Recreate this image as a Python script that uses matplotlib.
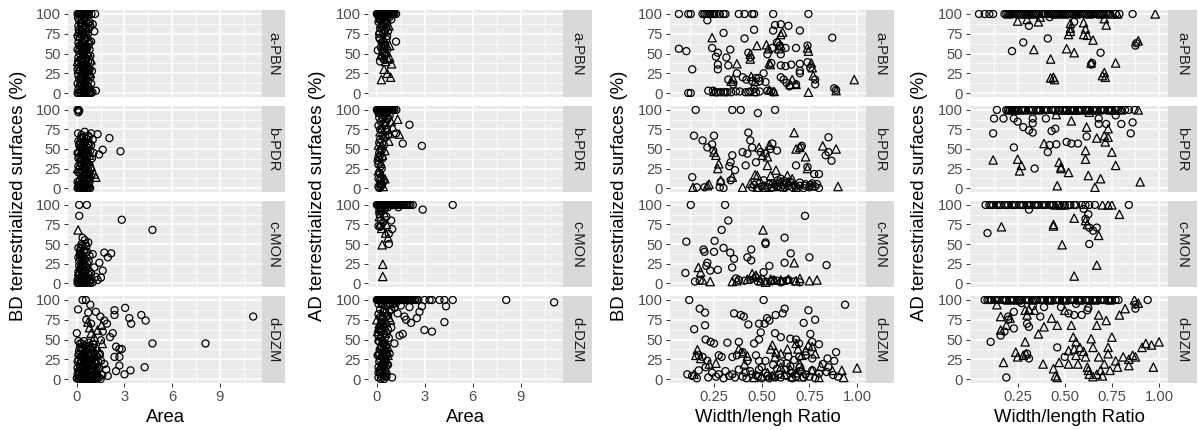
import matplotlib
matplotlib.use("Agg")
import matplotlib.pyplot as plt

plt.rcParams['font.family'] = ['Liberation Sans', 'DejaVu Sans']

facets = ["a-PBN", "b-PDR", "c-MON", "d-DZM"]
y_ticks = [0, 25, 50, 75, 100]
area_ticks = [0, 3, 6, 9]
ratio_ticks = [0.25, 0.50, 0.75, 1.00]
ratio_labels = ["0.25", "0.50", "0.75", "1.00"]

# (x, y) pairs; "_o" = open circles, "_t" = open triangles
area_bd_o = {
    "a-PBN": [(0.05,100),(0.12,100),(0.2,100),(0.28,100),(0.35,100),(0.42,100),(0.5,100),(0.58,100),(0.66,100),
              (0.75,100),(0.92,100),(1.15,100),(0.8,90),(0.85,85),(1.0,87),(1.1,78),(0.6,95),(0.3,92),(0.1,85),
              (0.4,82),(0.7,75),(0.2,70),(0.55,68),(0.9,65),(0.15,60),(0.45,58),(0.8,55),(0.3,52),(0.65,48),
              (0.1,45),(0.5,42),(0.85,38),(0.25,35),(0.6,32),(0.95,28),(0.4,25),(0.75,22),(0.15,18),(0.55,15),
              (0.9,12),(0.3,10),(0.7,8),(0.1,5),(0.45,4),(1.2,3),(0.05,0),(0.12,0),(0.2,1),(0.28,0),(0.35,2),
              (0.42,0),(0.5,1),(0.58,0),(0.66,2),(0.74,0),(0.82,1),(0.9,0),(0.98,1),(0.2,28),(0.35,65),(0.6,78),
              (0.25,88),(0.7,40),(0.4,48),(0.15,75),(0.5,20),(0.8,30),(0.05,55),(0.05,30),(0.05,12),
              (0.08,95),(0.25,97),(0.45,93),(0.7,88),(0.12,80),(0.32,77),(0.52,85),(0.78,82),(0.05,72),(0.28,74),
              (0.48,66),(0.65,70),(0.1,63),(0.35,57),(0.58,55),(0.75,62),(0.18,50),(0.4,53),(0.62,44),(0.85,47),
              (0.08,40),(0.3,43),(0.55,37),(0.72,32),(0.15,33),(0.38,30),(0.62,26),(0.85,20),(0.1,22),(0.3,18),
              (0.5,12),(0.72,15),(0.2,8),(0.4,7),(0.6,4),(0.8,6),(0.25,20),(0.45,32),(0.65,10),(0.15,92),
              (0.55,98),(0.35,88),(0.5,60),(0.22,60),(0.68,58)],
    "b-PDR": [(0.05,100),(0.1,100),(0.15,99),(0.1,97),(0.72,67),(1.31,69),(2.05,64),(1.63,49),(2.75,47),(1.4,43),
              (0.9,70),(0.5,72),(0.3,68),(1.0,62),(0.1,60),(0.4,58),(0.7,55),(0.2,52),(0.55,50),(0.85,48),(0.05,45),
              (0.35,43),(0.65,40),(0.95,38),(0.25,36),(0.5,33),(0.8,30),(0.1,28),(0.4,26),(0.7,23),(0.2,20),
              (0.55,18),(0.9,15),(0.3,13),(0.6,10),(0.05,8),(0.45,6),(0.75,4),(0.15,2),(0.05,0),(0.12,0),(0.2,0),
              (0.28,1),(0.36,0),(0.44,0),(0.52,1),(0.6,0),(0.68,0),(0.76,1),(0.84,0),(0.3,35),(0.6,63),(0.15,40),
              (0.45,15),(0.8,57),(0.25,5),(0.65,28),(1.05,45),(0.35,52),
              (0.08,70),(0.3,65),(0.55,60),(0.75,65),(0.15,55),(0.4,48),(0.65,52),(0.9,55),(0.1,38),(0.3,45),
              (0.5,40),(0.7,45),(0.2,33),(0.45,30),(0.6,35),(0.85,25),(0.1,20),(0.35,20),(0.55,24),(0.75,12),
              (0.2,10),(0.4,12),(0.6,5),(0.8,8),(0.3,3),(0.5,5),(0.1,4),(0.65,18),(0.25,58),(0.45,65)],
    "c-MON": [(0.15,100),(0.63,100),(0.15,86),(2.83,81),(4.76,68),(0.72,52),(0.36,58),(0.2,41),(0.57,39),(1.0,37),
              (1.73,39),(2.16,38),(1.95,33),(1.42,26),(1.1,20),(1.63,16),(1.52,7),(1.31,4),(0.78,3),(0.5,55),
              (0.3,50),(0.6,47),(0.25,45),(0.45,42),(0.8,35),(0.3,32),(0.5,30),(0.15,28),(0.65,25),(0.4,22),
              (0.2,18),(0.55,15),(0.9,12),(0.1,10),(0.35,8),(0.7,6),(0.05,4),(0.25,2),(0.45,1),(0.6,0),(0.05,0),
              (0.15,0),(0.3,0),(0.85,0),(1.0,1),(0.4,12),(0.2,35),(1.2,8),
              (0.1,45),(0.35,48),(0.55,50),(0.2,38),(0.4,35),(0.65,40),(0.1,33),(0.3,28),(0.5,24),(0.75,28),
              (0.15,22),(0.35,18),(0.6,20),(0.8,15),(0.1,14),(0.3,10),(0.5,8),(0.7,12),(0.2,5),(0.4,3),(0.6,4),
              (0.8,2),(0.1,2),(0.3,5),(0.5,2),(0.9,5)],
    "d-DZM": [(0.36,100),(0.57,100),(0.85,94),(0.08,88),(0.72,84),(1.2,85),(1.48,79),(2.37,87),(2.37,81),(3.04,90),
              (3.3,77),(3.42,70),(4.06,81),(4.33,74),(4.76,45),(8.1,45),(11.1,79),(0.0,58),(1.73,74),(1.9,70),
              (1.63,60),(1.52,49),(2.26,58),(2.09,53),(2.47,41),(2.68,38),(2.83,38),(2.37,28),(2.68,28),(2.68,17),
              (2.47,10),(3.0,6),(3.38,11),(4.27,15),(1.52,23),(1.73,19),(1.95,4),(1.85,12),(0.9,70),(0.6,75),
              (0.45,48),(0.2,45),(0.7,42),(1.0,40),(0.3,38),(0.55,35),(0.85,33),(1.2,30),(0.1,30),(0.4,28),
              (0.65,26),(0.95,24),(1.35,22),(0.2,20),(0.5,18),(0.8,16),(1.1,15),(0.05,14),(0.3,12),(0.6,10),
              (0.9,9),(1.25,8),(0.15,6),(0.45,5),(0.75,4),(1.05,3),(1.4,2),(0.0,1),(0.1,0),(0.2,0),(0.3,1),(0.4,0),
              (0.5,0),(0.6,1),(0.7,0),(0.8,0),(0.9,1),(1.0,0),(1.15,0),(1.3,1),(1.5,0),(0.25,28),(0.55,22),
              (0.35,8),(0.65,14),(0.15,36),(1.45,32),(1.6,5),(0.05,22),(0.75,30),
              (0.1,48),(0.3,45),(0.5,42),(0.75,46),(1.0,35),(0.2,40),(0.4,37),(0.6,38),(0.9,30),(1.1,32),(1.3,28),
              (0.15,32),(0.35,30),(0.55,28),(0.75,25),(1.0,27),(1.2,20),(0.1,24),(0.3,22),(0.5,20),(0.7,22),
              (0.9,18),(1.4,14),(0.2,16),(0.4,14),(0.6,15),(0.8,12),(1.0,10),(1.2,12),(0.1,10),(0.3,6),(0.5,8),
              (0.7,7),(0.9,5),(1.1,6),(1.3,4),(0.2,2),(0.4,3),(0.6,2),(0.8,3),(1.0,1),(1.2,2),(0.05,6),(0.45,24),
              (0.65,32),(0.85,40),(1.05,44),(0.25,12)],
}
area_bd_t = {
    "a-PBN": [(0.15,72),(0.3,62),(0.5,75),(0.7,52),(0.25,45),(0.45,38),(0.6,22),(0.35,18),(0.8,68),(0.1,30),
              (0.55,10),(0.9,42),(0.2,5),(0.4,25),(0.65,82),(0.75,35),(0.15,58),(0.5,50),(0.3,90),(0.85,25),
              (0.6,60),(0.2,15),(0.1,78),(0.4,66),(0.7,28),(0.35,48),(0.55,84),(0.05,40)],
    "b-PDR": [(0.1,48),(0.3,57),(0.5,45),(0.7,35),(0.2,30),(0.45,22),(0.6,50),(0.8,42),(1.1,18),(1.2,14),
              (0.15,12),(0.35,8),(0.55,38),(0.75,20),(0.25,65),(0.9,28),(0.05,25),(0.4,3),(0.6,15),(0.3,25)],
    "c-MON": [(0.08,68),(0.3,40),(0.4,30),(0.2,22),(0.5,18),(0.25,12),(0.1,6),(0.35,3),(0.6,8),(0.15,15),
              (0.45,5),(0.3,25)],
    "d-DZM": [(1.31,62),(1.1,53),(1.42,34),(1.0,49),(1.6,45),(0.9,58),(1.25,40),(0.8,65),(0.7,72),(1.55,68),
              (0.5,38),(0.3,25),(0.6,30),(0.2,15),(0.4,10),(1.0,20),(1.2,25),(0.85,42),(1.35,15),(0.15,5),
              (0.6,8),(0.95,2),(0.4,33),(0.75,18),(1.15,10)],
}

area_ad_o = {
    "a-PBN": [(0.0,100),(0.08,100),(0.16,100),(0.24,100),(0.32,100),(0.4,100),(0.48,100),(0.56,100),(0.64,100),
              (0.72,100),(0.8,100),(0.9,100),(1.0,100),(1.1,100),(1.2,100),(0.1,97),(0.3,96),(0.5,95),(0.7,97),
              (0.2,92),(0.45,90),(0.65,88),(0.9,93),(0.06,54),(1.2,65),(0.64,72),(0.3,85),(0.5,78),(0.2,68),
              (0.4,62),(0.55,58),(0.35,45),(0.6,82),(0.15,75),(0.45,50),(0.25,58),
              (0.04,100),(0.12,100),(0.2,100),(0.28,100),(0.36,100),(0.44,100),(0.52,100),(0.6,100),(0.68,100),
              (0.76,100),(0.85,100),(0.95,100),(1.05,100),(0.15,98),(0.4,97),(0.6,98),(0.25,94),(0.55,92),
              (0.8,96),(0.1,90),(0.35,88),(0.6,90),(0.2,82),(0.45,80),(0.7,78),(0.15,70),(0.4,75),(0.6,68),
              (0.3,64),(0.5,60),(0.65,55),(0.35,52),(0.5,48),(0.2,40),(0.45,42)],
    "b-PDR": [(0.0,100),(0.08,100),(0.16,100),(0.24,100),(0.32,100),(0.4,100),(0.48,100),(0.56,100),(0.64,100),
              (0.72,100),(0.8,100),(0.9,100),(1.0,100),(1.1,100),(1.22,100),(0.2,96),(0.5,95),(0.8,93),(0.35,90),
              (0.65,88),(2.04,81),(2.82,54),(1.62,57),(1.2,70),(0.5,80),(0.3,75),(0.7,68),(0.2,62),(0.45,55),
              (0.15,45),(0.35,38),(0.1,30),(0.3,25),(0.2,18),(0.1,12),(0.3,5),(0.15,0),(0.25,2),(0.4,8),
              (0.05,35),(0.25,50),(0.55,65),
              (0.04,100),(0.12,100),(0.2,100),(0.28,100),(0.36,100),(0.44,100),(0.52,100),(0.6,100),(0.68,100),
              (0.76,100),(0.85,100),(0.95,100),(0.1,96),(0.3,97),(0.6,95),(0.15,90),(0.45,92),(0.7,90),(0.25,85),
              (0.55,84),(0.1,80),(0.4,82),(0.2,75),(0.6,76),(0.35,68),(0.15,58),(0.3,48),(0.2,42),(0.1,40),
              (0.25,28),(0.15,20),(0.3,12),(0.2,5),(0.1,2)],
    "c-MON": [(0.0,100),(0.1,100),(0.2,100),(0.3,100),(0.4,100),(0.5,100),(0.6,100),(0.7,100),(0.8,100),
              (0.9,100),(1.0,100),(1.15,100),(1.3,100),(1.5,100),(1.7,100),(1.9,100),(2.1,100),(2.25,100),
              (4.75,100),(2.87,94),(1.35,97),(0.17,88),(0.9,80),(0.96,69),(0.75,63),(0.27,73),(0.1,73),
              (0.75,50),(0.5,95),(0.3,92),(0.6,85),(0.4,78),
              (0.05,100),(0.15,100),(0.25,100),(0.35,100),(0.45,100),(0.55,100),(0.65,100),(0.75,100),(0.85,100),
              (0.95,100),(1.08,100),(1.22,100),(1.4,100),(1.6,100),(1.8,100),(2.0,100),(0.2,96),(0.4,95),
              (0.7,97),(0.15,92),(0.25,80),(0.2,72)],
    "d-DZM": [(0.0,100),(0.1,100),(0.2,100),(0.3,100),(0.4,100),(0.5,100),(0.6,100),(0.7,100),(0.8,100),
              (0.9,100),(1.0,100),(1.1,100),(1.2,100),(1.35,100),(1.5,100),(1.65,100),(1.8,100),(2.0,100),
              (2.2,100),(2.4,100),(2.6,100),(2.98,100),(3.3,100),(3.45,100),(3.92,100),(4.23,100),(4.75,100),
              (8.1,100),(11.1,97),(4.33,92),(2.82,92),(4.23,72),(2.98,62),(3.45,60),(2.67,85),(2.04,91),
              (2.5,77),(2.14,71),(1.73,79),(1.83,75),(1.42,55),(1.62,57),(1.1,45),(1.3,83),(0.9,88),(0.6,92),
              (0.3,95),(1.5,93),(1.2,96),(0.8,96),(0.4,85),(0.7,80),(0.2,78),(0.55,70),(0.9,65),(0.15,62),
              (0.45,58),(0.75,52),(0.1,48),(0.35,45),(0.6,42),(0.2,38),(0.5,35),(0.8,32),(0.05,30),(0.3,28),
              (0.55,25),(0.15,22),(0.4,20),(0.7,18),(0.1,15),(0.3,12),(0.5,10),(0.2,8),(0.4,5),(0.6,3),(0.1,2),
              (0.25,0),(0.45,0),(0.95,2),(0.35,33),(0.25,52),
              (0.05,100),(0.15,100),(0.25,100),(0.35,100),(0.45,100),(0.55,100),(0.65,100),(0.75,100),(0.85,100),
              (0.95,100),(1.05,100),(1.15,100),(1.28,100),(1.42,100),(1.58,100),(1.72,100),(1.9,100),(2.1,100),
              (2.3,100),(2.5,100),(0.1,95),(0.4,94),(0.7,93),(1.0,95),(0.2,88),(0.5,88),(0.8,86),(1.1,90),
              (0.1,82),(0.35,78),(0.6,80),(0.3,72),(0.45,66),(0.7,62),(0.25,60),(0.5,52),(0.1,55),(0.3,40),
              (0.45,38),(0.15,30),(0.4,28),(0.6,30),(0.2,25),(0.35,18),(0.55,15),(0.1,8),(0.3,3),(0.5,4),
              (0.2,12),(0.4,45),(0.15,48),(0.55,35)],
}
area_ad_t = {
    "a-PBN": [(0.28,17),(0.86,20),(0.92,37),(0.7,43),(0.17,79),(0.5,66),(0.6,52),(0.8,45),(0.4,70),(0.3,88),
              (0.75,85),(0.55,40),(0.65,25),(0.2,95),(0.45,30),(0.35,60),(0.8,60),(0.25,48)],
    "b-PDR": [(1.4,69),(1.3,88),(0.28,8),(0.5,12),(0.9,85),(0.6,75),(0.4,68),(0.2,72),(0.75,60),(0.3,55),
              (0.5,48),(0.15,40),(0.25,32),(0.1,22),(0.2,15),(0.4,2),(1.0,78),(0.8,70),(0.35,42),(0.1,55)],
    "c-MON": [(0.33,49),(0.37,24),(0.37,8.5),(0.55,64),(0.3,70),(0.15,85),(0.6,75),(0.45,90),(0.2,95),(0.7,58)],
    "d-DZM": [(0.0,75),(0.15,70),(0.3,65),(0.45,68),(0.6,72),(0.75,78),(0.2,55),(0.4,50),(0.55,45),(0.7,40),
              (0.1,35),(0.35,30),(0.5,25),(0.65,22),(0.25,18),(0.45,12),(0.6,62),(0.85,75),(0.05,60),(0.3,80),
              (0.5,85),(0.2,42),(0.65,35),(0.4,8),(0.7,30),(0.1,65),(0.25,70),(0.55,58),(0.35,20),(0.6,12)],
}

ratio_bd_o = {
    "a-PBN": [(0.066,100),(0.115,100),(0.128,100),(0.19,100),(0.2,100),(0.21,100),(0.22,100),(0.23,100),(0.24,100),
              (0.25,100),(0.26,100),(0.28,100),(0.3,100),(0.31,100),(0.38,100),(0.41,100),(0.45,100),(0.46,100),
              (0.56,100),(0.745,100),(0.215,92),(0.066,56),(0.105,53),(0.136,30),(0.3,76),(0.24,57),(0.27,51),
              (0.26,46),(0.27,36),(0.315,45),(0.335,55),(0.325,35),(0.27,30),(0.325,17),(0.35,11),(0.37,25),
              (0.41,69),(0.43,51),(0.46,80),(0.44,45),(0.4,20),(0.42,17),(0.45,15),(0.47,19),(0.485,19),(0.49,15),
              (0.52,14),(0.51,25),(0.56,79),(0.57,86),(0.6,87),(0.64,85),(0.7,79),(0.555,57),(0.58,64),(0.595,60),
              (0.6,49),(0.625,57),(0.68,57),(0.74,60),(0.53,49),(0.55,38),(0.6,35),(0.625,34),(0.655,36),(0.7,37),
              (0.74,39),(0.7,28),(0.7,25),(0.755,32),(0.6,20),(0.615,17),(0.63,13),(0.645,8.5),(0.68,11),(0.78,17),
              (0.78,11),(0.87,70),(0.88,6),(0.89,4),(0.115,0),(0.128,0),(0.22,3),(0.245,3),(0.26,1),(0.27,1),
              (0.285,1),(0.3,1),(0.31,1),(0.32,1),(0.34,1),(0.365,2),(0.385,2),(0.415,1),(0.43,1),(0.44,2),
              (0.46,5),(0.47,1),(0.49,2),(0.53,3),(0.55,2),(0.56,1)],
    "b-PDR": [(0.154,100),(0.346,100),(0.39,100),(0.48,96),(0.57,100),(0.136,14),(0.145,67),(0.19,61),(0.215,52),
              (0.25,67),(0.24,56),(0.246,48),(0.346,42),(0.337,33),(0.33,28),(0.36,23),(0.337,10),(0.285,8),
              (0.43,71),(0.44,61),(0.45,52),(0.4,46),(0.425,44),(0.416,29),(0.47,33),(0.495,46),(0.52,44),
              (0.547,50),(0.58,48),(0.556,57),(0.68,29),(0.705,52),(0.71,54),(0.74,27),(0.775,18),(0.8,18),
              (0.85,65),(0.85,46),(0.866,35),(0.835,42),(0.73,5),(0.765,6),(0.79,5),(0.7,3),(0.45,1),(0.48,0),
              (0.5,2),(0.53,1),(0.55,0),(0.58,2),(0.6,1),(0.62,0),(0.64,3),(0.66,1),(0.68,2),(0.72,0),(0.75,1),
              (0.78,2),(0.8,0),(0.2,1),(0.28,1),(0.3,0),(0.16,1),(0.6,12),(0.65,8),(0.56,6),
              (0.46,4),(0.49,6),(0.515,3),(0.54,5),(0.57,4),(0.59,7),(0.615,4),(0.63,6),(0.67,4),(0.7,7),
              (0.725,3),(0.755,4),(0.51,10),(0.585,10),(0.62,9)],
    "c-MON": [(0.128,100),(0.308,100),(0.105,53),(0.1,13),(0.29,68),(0.325,80),(0.3,45),(0.253,54),(0.25,40),
              (0.2,40),(0.195,43),(0.215,26),(0.21,22),(0.23,16),(0.27,17),(0.175,3),(0.15,2),(0.335,39),
              (0.355,31),(0.345,20),(0.365,6),(0.425,33),(0.445,29),(0.445,43),(0.47,7),(0.51,14),(0.52,52),
              (0.52,50),(0.54,22),(0.62,58),(0.62,26),(0.652,38),(0.727,86),(0.75,33),(0.84,23),(0.48,2),
              (0.52,2),(0.55,2),(0.58,3),(0.61,2),(0.64,4),(0.67,2),(0.44,4),(0.41,3),(0.5,5),(0.56,4),
              (0.6,1),(0.63,3),(0.7,1),(0.38,4)],
    "d-DZM": [(0.12,100),(0.51,100),(0.937,94),(0.175,89),(0.203,84),(0.203,68),(0.146,63),(0.355,83),(0.39,81),
              (0.406,79),(0.43,69),(0.486,70),(0.515,70),(0.528,77),(0.54,74),(0.573,81),(0.61,83),(0.62,89),
              (0.745,87),(0.72,71),(0.78,75),(0.232,47),(0.25,45),(0.206,50),(0.32,46),(0.38,47),(0.46,45),
              (0.486,50),(0.495,59),(0.57,58),(0.6,53),(0.65,51),(0.68,50),(0.696,45),(0.755,57),(0.764,47),
              (0.8,44),(0.845,26),(0.88,23),(0.89,34),(0.17,30),(0.19,28),(0.215,23),(0.275,30),(0.29,28),
              (0.346,28),(0.37,30),(0.4,34),(0.425,23),(0.47,30),(0.486,23),(0.52,23),(0.6,20),(0.64,28),
              (0.696,28),(0.73,30),(0.765,26),(0.82,19),(0.85,15),(0.11,6),(0.135,4),(0.17,11),(0.206,15),
              (0.24,8),(0.275,6),(0.31,10),(0.346,6),(0.38,12),(0.416,8),(0.45,6),(0.486,12),(0.52,8),(0.556,4),
              (0.59,6),(0.625,12),(0.66,8),(0.7,10),(0.73,6),(0.765,11),(0.8,7),(0.84,9),(0.875,5),(0.9,3),
              (0.16,1),(0.22,2),(0.3,1),(0.36,2),(0.42,1),(0.48,3),(0.54,1),(0.6,2),(0.66,1),(0.72,2),
              (0.26,3),(0.33,4),(0.4,3),(0.47,5),(0.5,1),(0.53,4),(0.57,2),(0.63,4),(0.68,3),(0.75,3),(0.78,1),
              (0.44,10),(0.5,15),(0.58,13),(0.65,16),(0.7,15),(0.63,20),(0.67,24),(0.56,18)],
}
ratio_bd_t = {
    "a-PBN": [(0.24,70),(0.37,37),(0.35,18),(0.34,15),(0.44,43),(0.44,49),(0.445,21),(0.465,15),(0.475,60),
              (0.525,61),(0.535,56),(0.545,36),(0.54,38),(0.6,74),(0.61,77),(0.585,66),(0.59,56),(0.6,60),
              (0.66,17),(0.65,11),(0.68,11),(0.74,57),(0.745,53),(0.76,38),(0.765,32),(0.77,22),(0.985,17),
              (0.89,3),(0.745,1),(0.565,2),(0.54,4),(0.46,2),(0.25,2)],
    "b-PDR": [(0.25,46),(0.26,42),(0.275,31),(0.27,25),(0.346,14),(0.224,5),(0.215,3),(0.285,10),(0.4,1),
              (0.465,17),(0.477,16),(0.486,52),(0.54,55),(0.53,40),(0.503,42),(0.53,29),(0.575,23),(0.547,16),
              (0.67,71),(0.68,50),(0.7,52),(0.73,40),(0.74,25),(0.82,54),(0.89,50),(0.9,2),(0.635,16),(0.64,8),
              (0.66,12),(0.6,8),(0.477,1),(0.52,1),(0.56,2),(0.61,2),(0.68,1),(0.765,3),(0.14,1),(0.44,6)],
    "c-MON": [(0.507,68),(0.67,26),(0.168,20),(0.18,14),(0.19,4),(0.23,2),(0.346,2),(0.37,3),(0.425,5),
              (0.45,12),(0.46,8),(0.47,10),(0.495,3),(0.52,1),(0.547,5),(0.565,4),(0.6,4),(0.64,5),(0.68,3),
              (0.7,6),(0.75,3),(0.79,4)],
    "d-DZM": [(0.163,37),(0.155,30),(0.18,26),(0.225,19),(0.26,20),(0.145,6),(0.38,38),(0.4,33),(0.425,29),
              (0.41,19),(0.556,43),(0.547,38),(0.575,34),(0.57,28),(0.6,32),(0.635,38),(0.68,45),(0.69,38),
              (0.71,30),(0.73,36),(0.745,43),(0.78,32),(0.765,41),(0.7,19),(0.71,13),(0.764,11),(0.81,16),
              (0.87,11),(0.92,11),(0.93,2),(1.0,14),(0.556,4),(0.5,4),(0.46,2),(0.53,8),(0.62,6),(0.66,3),
              (0.71,3),(0.8,2),(0.65,12),(0.68,8),(0.6,15)],
}

ratio_ad_o = {
    "a-PBN": [(0.045,100),(0.075,100),(0.1,100),(0.12,100),(0.18,100),(0.2,100),(0.22,100),(0.24,100),
              (0.26,100),(0.27,100),(0.29,100),(0.31,100),(0.33,100),(0.35,100),(0.38,100),(0.4,100),(0.42,100),
              (0.44,100),(0.46,100),(0.47,100),(0.49,100),(0.5,100),(0.52,100),(0.53,100),(0.55,100),(0.57,100),
              (0.59,100),(0.6,100),(0.62,100),(0.64,100),(0.66,100),(0.68,100),(0.7,100),(0.72,100),(0.74,100),
              (0.77,100),(0.79,100),(0.86,100),(0.31,85),(0.22,53),(0.28,64),(0.41,69),(0.42,96),(0.69,51),
              (0.64,36),(0.645,38),(0.875,60),(0.88,63),(0.55,90),
              (0.19,100),(0.21,100),(0.23,100),(0.25,100),(0.28,100),(0.3,100),(0.32,100),(0.34,100),(0.36,100),
              (0.39,100),(0.41,100),(0.43,100),(0.45,100),(0.48,100),(0.51,100),(0.54,100),(0.56,100),(0.58,100),
              (0.61,100),(0.63,100),(0.65,100),(0.67,100),(0.69,100),(0.71,100),(0.73,100)],
    "b-PDR": [(0.14,100),(0.19,100),(0.21,100),(0.23,100),(0.25,100),(0.27,100),(0.29,100),(0.31,100),(0.33,100),
              (0.35,100),(0.37,100),(0.39,100),(0.41,100),(0.43,100),(0.45,100),(0.47,100),(0.49,100),(0.51,100),
              (0.53,100),(0.55,100),(0.57,100),(0.59,100),(0.61,100),(0.63,100),(0.65,100),(0.67,100),(0.69,100),
              (0.71,100),(0.73,100),(0.75,100),(0.77,100),(0.8,100),(0.84,100),(0.125,89),(0.12,70),(0.175,89),
              (0.23,89),(0.25,85),(0.28,78),(0.33,89),(0.33,83),(0.31,74),(0.33,71),(0.4,89),(0.43,73),(0.45,76),
              (0.23,52),(0.34,25),(0.42,55),(0.41,46),(0.455,56),(0.51,59),(0.535,57),(0.57,57),(0.616,66),
              (0.68,82),(0.72,82),(0.8,82),(0.86,84),(0.85,70),(0.77,93),(0.68,89),
              (0.2,100),(0.22,100),(0.24,100),(0.28,100),(0.32,100),(0.36,100),(0.4,100),(0.44,100),(0.5,100),
              (0.54,100),(0.58,100),(0.62,100),(0.66,100),(0.7,100),(0.74,100),(0.78,100),(0.82,100),(0.87,100)],
    "c-MON": [(0.08,100),(0.1,100),(0.12,100),(0.14,100),(0.16,100),(0.18,100),(0.2,100),(0.22,100),(0.24,100),
              (0.26,100),(0.28,100),(0.3,100),(0.32,100),(0.34,100),(0.36,100),(0.38,100),(0.4,100),(0.42,100),
              (0.44,100),(0.47,100),(0.5,100),(0.53,100),(0.56,100),(0.59,100),(0.61,100),(0.63,100),(0.66,100),
              (0.84,100),(0.09,64),(0.31,94),(0.625,88),(0.63,71),(0.65,67),(0.67,71),(0.63,50),(0.61,82),
              (0.6,95),(0.11,100),(0.15,100),(0.19,100),(0.23,100),(0.27,100),(0.31,100),(0.35,100),(0.39,100),
              (0.43,100),(0.46,100),(0.52,100),(0.55,100)],
    "d-DZM": [(0.075,100),(0.09,100),(0.11,100),(0.13,100),(0.15,100),(0.17,100),(0.19,100),(0.21,100),
              (0.23,100),(0.25,100),(0.27,100),(0.29,100),(0.31,100),(0.33,100),(0.35,100),(0.37,100),(0.39,100),
              (0.41,100),(0.43,100),(0.45,100),(0.47,100),(0.49,100),(0.51,100),(0.53,100),(0.55,100),(0.57,100),
              (0.59,100),(0.61,100),(0.63,100),(0.65,100),(0.67,100),(0.69,100),(0.71,100),(0.73,100),(0.75,100),
              (0.77,100),(0.785,100),(0.94,100),(0.107,47),(0.19,2),(0.16,55),(0.18,60),(0.2,75),(0.2,79),
              (0.23,85),(0.23,64),(0.3,70),(0.31,66),(0.37,79),(0.31,26),(0.3,32),(0.39,91),(0.48,91),(0.46,40),
              (0.5,28),(0.52,83),(0.55,81),(0.59,81),(0.62,87),(0.625,90),(0.875,89),(0.875,94),(0.33,92),
              (0.56,95),(0.27,96),(0.1,100),(0.14,100),(0.18,100),(0.22,100),(0.26,100),(0.3,100),(0.34,100),
              (0.38,100),(0.42,100),(0.46,100),(0.5,100),(0.54,100),(0.58,100),(0.62,100),(0.66,100),(0.7,100),
              (0.74,100)],
}
ratio_ad_t = {
    "a-PBN": [(0.2,100),(0.26,100),(0.3,100),(0.34,100),(0.45,100),(0.5,100),(0.56,100),(0.63,100),(0.69,100),
              (0.75,100),(0.78,100),(0.98,100),(0.25,91),(0.3,93),(0.36,90),(0.37,96),(0.336,55),(0.425,43),
              (0.425,19),(0.446,17),(0.44,20),(0.51,56),(0.55,51),(0.53,88),(0.53,82),(0.52,74),(0.53,78),
              (0.6,89),(0.61,81),(0.6,74),(0.62,73),(0.65,67),(0.64,38),(0.7,22),(0.71,26),(0.715,20),(0.77,38),
              (0.72,86),(0.89,66),(0.71,94)],
    "b-PDR": [(0.2,100),(0.22,100),(0.24,100),(0.26,100),(0.3,100),(0.36,100),(0.46,100),(0.48,100),(0.5,100),
              (0.52,100),(0.54,100),(0.56,100),(0.58,100),(0.62,100),(0.64,100),(0.68,100),(0.74,100),(0.76,100),
              (0.8,100),(0.89,100),(0.12,36),(0.25,37),(0.27,29),(0.26,22),(0.39,57),(0.47,33),(0.48,27),(0.46,3),
              (0.48,25),(0.52,20),(0.535,86),(0.455,94),(0.616,78),(0.61,48),(0.61,37),(0.625,16),(0.66,1),
              (0.69,12),(0.67,64),(0.71,67),(0.715,59),(0.73,65),(0.73,76),(0.75,46),(0.77,29),(0.9,8),(0.63,97)],
    "c-MON": [(0.45,100),(0.48,100),(0.5,100),(0.7,100),(0.73,100),(0.75,100),(0.164,72),(0.44,75),(0.44,73),
              (0.486,49),(0.55,83),(0.61,80),(0.62,75),(0.68,61),(0.67,23),(0.55,9),(0.79,88)],
    "d-DZM": [(0.2,100),(0.25,100),(0.33,100),(0.42,100),(0.5,100),(0.58,100),(0.66,100),(0.74,100),(0.87,100),
              (0.175,21),(0.16,79),(0.16,62),(0.19,68),(0.14,94),(0.21,77),(0.24,34),(0.25,28),(0.28,30),
              (0.29,47),(0.295,32),(0.3,81),(0.29,87),(0.31,88),(0.34,87),(0.36,57),(0.385,19),(0.39,66),
              (0.43,77),(0.44,13),(0.45,4),(0.46,2),(0.46,68),(0.47,21),(0.5,87),(0.52,19),(0.535,68),(0.545,53),
              (0.55,38),(0.56,30),(0.57,19),(0.56,47),(0.58,40),(0.61,28),(0.62,15),(0.625,11),(0.63,6),
              (0.64,51),(0.65,40),(0.67,68),(0.68,81),(0.68,28),(0.69,11),(0.7,4),(0.71,19),(0.72,74),(0.73,40),
              (0.73,32),(0.74,11),(0.75,53),(0.77,23),(0.78,15),(0.79,81),(0.81,28),(0.82,89),(0.84,17),
              (0.84,25),(0.86,30),(0.875,28),(0.89,96),(0.93,45),(0.97,15),(1.0,47),(0.96,43),(0.91,40),
              (0.65,3),(0.67,6),(0.52,36),(0.6,35)],
}

W, H = 1198, 430
fig = plt.figure(figsize=(W / 100, H / 100), dpi=100)

# pixel layout: (panel left, panel right, strip width, ylabel x)
columns = [
    (area_bd_o, area_bd_t, "Area", "BD terrestrialized surfaces (%)", "area", 68, 262, 23, 19),
    (area_ad_o, area_ad_t, "Area", "AD terrestrialized surfaces (%)", "area", 368, 563, 29, 318),
    (ratio_bd_o, ratio_bd_t, "Width/lengh Ratio", "BD terrestrialized surfaces (%)", "ratio", 670, 866, 28, 620),
    (ratio_ad_o, ratio_ad_t, "Width/length Ratio", "AD terrestrialized surfaces (%)", "ratio", 970, 1168, 29, 920),
]
rows = [(10, 97), (106, 192), (201, 287), (296, 383)]

def rect(x0, x1, y0, y1):
    return [x0 / W, 1 - y1 / H, (x1 - x0) / W, (y1 - y0) / H]

def expand(vals):
    lo, hi = min(vals), max(vals)
    pad = 0.05 * (hi - lo)
    return lo - pad, hi + pad

for circ, tri, xlab, ylab, kind, x0, x1, sw, ylx in columns:
    all_x = [p[0] for d in (circ, tri) for f in facets for p in d[f]]
    xlim = expand(all_x)
    for r, facet in enumerate(facets):
        y0, y1 = rows[r]
        ax = fig.add_axes(rect(x0, x1, y0, y1))
        ax.set_facecolor("#EBEBEB")
        for s in ax.spines.values():
            s.set_visible(False)
        co = circ[facet]
        tr = tri[facet]
        ax.scatter([p[0] for p in co], [p[1] for p in co], s=26, marker="o",
                   facecolors="none", edgecolors="black", linewidths=0.9, zorder=3)
        ax.scatter([p[0] for p in tr], [p[1] for p in tr], s=36, marker="^",
                   facecolors="none", edgecolors="black", linewidths=0.9, zorder=3)
        ax.set_xlim(*xlim)
        ax.set_ylim(-5, 105)
        ax.set_yticks(y_ticks)
        ax.set_yticks([12.5, 37.5, 62.5, 87.5], minor=True)
        if kind == "area":
            ax.set_xticks(area_ticks)
            ax.set_xticks([1.5, 4.5, 7.5, 10.5], minor=True)
        else:
            ax.set_xticks(ratio_ticks, ratio_labels)
            ax.set_xticks([0.125, 0.375, 0.625, 0.875], minor=True)
        ax.grid(which="major", color="white", lw=1.1)
        ax.grid(which="minor", color="white", lw=0.55)
        ax.set_axisbelow(True)
        ax.tick_params(which="minor", length=0)
        ax.tick_params(axis="y", which="major", length=3, width=0.7, color="#333333",
                       labelsize=10.6, labelcolor="#4D4D4D", pad=2)
        if r == 3:
            ax.tick_params(axis="x", which="major", length=3, width=0.7, color="#333333",
                           labelsize=10.6, labelcolor="#4D4D4D", pad=2)
        else:
            ax.tick_params(axis="x", which="major", length=0, labelbottom=False)

        sax = fig.add_axes(rect(x1, x1 + sw, y0, y1))
        sax.set_facecolor("#D9D9D9")
        sax.set_xticks([])
        sax.set_yticks([])
        for s in sax.spines.values():
            s.set_visible(False)
        sax.text(0.5, 0.5, facet, rotation=270, ha="center", va="center",
                 fontsize=10.6, color="#1A1A1A", transform=sax.transAxes)

    fig.text((x0 + x1) / 2 / W, 1 - 418 / H, xlab, ha="center", va="center", fontsize=13.3)
    fig.text(ylx / W, 1 - 196 / H, ylab, ha="center", va="center", rotation=90, fontsize=13.3)

fig.savefig("out.png", dpi=100)
